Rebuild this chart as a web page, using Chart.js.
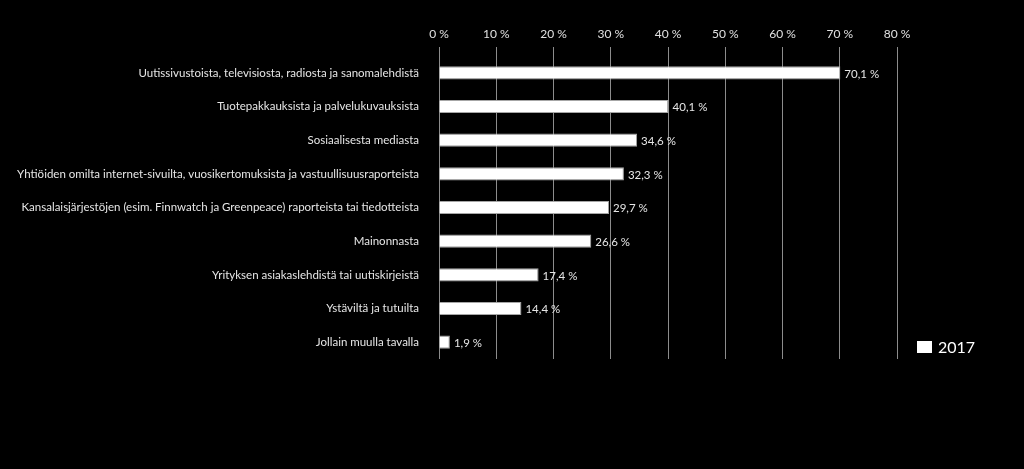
<!DOCTYPE html>
<html>
<head>
<meta charset="utf-8">
<script src="https://cdn.jsdelivr.net/npm/chart.js@4/dist/chart.umd.min.js"></script>
<style>
  html, body { margin: 0; padding: 0; background: #000; }
  #wrap { width: 1024px; height: 469px; }
</style>
</head>
<body>
<div id="wrap"><canvas id="miGrafica" width="1024" height="469"></canvas></div>
<script>
"use strict";

// categorias (eje Y)
const etiquetas = [
    "Uutissivustoista, televisiosta, radiosta ja sanomalehdistä",
    "Tuotepakkauksista ja palvelukuvauksista",
    "Sosiaalisesta mediasta",
    "Yhtiöiden omilta internet-sivuilta, vuosikertomuksista ja vastuullisuusraporteista",
    "Kansalaisjärjestöjen (esim. Finnwatch ja Greenpeace) raporteista tai tiedotteista",
    "Mainonnasta",
    "Yrityksen asiakaslehdistä tai uutiskirjeistä",
    "Ystäviltä ja tutuilta",
    "Jollain muulla tavalla"
];

// valores 2017 (%)
const valores2017 = [70.1, 40.1, 34.6, 32.3, 29.7, 26.6, 17.4, 14.4, 1.9];

// ticks del eje X
const ticksX = [0, 10, 20, 30, 40, 50, 60, 70, 80];

const fuente = "Lato, 'Open Sans', sans-serif";

// escribe el valor al final de cada barra
const etiquetasValor = {
    id: "etiquetasValor",
    afterDatasetsDraw(chart) {
        const ctx = chart.ctx;
        const meta = chart.getDatasetMeta(0);
        ctx.save();
        ctx.fillStyle = "#e6e6e6";
        ctx.font = "11.5px " + fuente;
        ctx.textBaseline = "middle";
        ctx.textAlign = "left";
        meta.data.forEach((bar, i) => {
            let txt = valores2017[i].toFixed(1).replace(".", ",") + " %";
            ctx.fillText(txt, bar.x + 4, bar.y + 1);
        });
        ctx.restore();
    }
};

// leyenda abajo a la derecha
const leyenda = {
    id: "leyenda",
    afterDraw(chart) {
        const ctx = chart.ctx;
        const ds = chart.data.datasets[0];
        ctx.save();
        ctx.fillStyle = ds.backgroundColor;
        ctx.fillRect(917, 341, 15, 12);
        ctx.fillStyle = "#ffffff";
        ctx.font = "16px " + fuente;
        ctx.textBaseline = "middle";
        ctx.fillText(ds.label, 938, 348);
        ctx.restore();
    }
};

const ctx = document.getElementById("miGrafica").getContext("2d");

new Chart(ctx, {
    type: "bar",
    data: {
        labels: etiquetas,
        datasets: [
            {
                label: "2017",
                data: valores2017,
                backgroundColor: "#ffffff",
                borderColor: "#a6a6a6",
                borderWidth: 1,
                barPercentage: 0.39,
                categoryPercentage: 1.0
            }
        ]
    },
    options: {
        indexAxis: "y",
        responsive: false,
        animation: false,
        layout: { padding: { top: 0, right: 127, bottom: 110, left: 0 } },
        plugins: {
            legend: { display: false },
            tooltip: { enabled: false }
        },
        scales: {
            x: {
                position: "top",
                min: 0,
                max: 80,
                afterBuildTicks(axis) {
                    axis.ticks = ticksX.map(v => ({ value: v }));
                },
                afterFit(axis) { axis.height = 56; },
                grid: {
                    color: "#8c8c8c",
                    lineWidth: 1,
                    tickLength: 9,
                    drawTicks: true
                },
                border: { display: false },
                ticks: {
                    color: "#e0e0e0",
                    font: { family: fuente, size: 12 },
                    padding: 6,
                    callback: v => v + " %"
                }
            },
            y: {
                afterFit(axis) { axis.width = 439; },
                grid: { display: false },
                border: { display: false },
                ticks: {
                    color: "#e6e6e6",
                    font: { family: fuente, size: 11.5 },
                    padding: 12
                }
            }
        }
    },
    plugins: [etiquetasValor, leyenda]
});
</script>
</body>
</html>
